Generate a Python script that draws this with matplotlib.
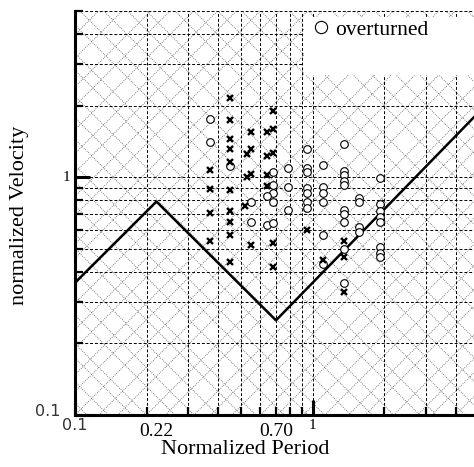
import numpy as np
import matplotlib
matplotlib.use("Agg")
import matplotlib.pyplot as plt
import matplotlib.transforms as mtransforms
from matplotlib.patches import Rectangle

# stability boundary (thick V line)
bound_x = [0.1, 0.22, 0.70, 5.0]
bound_y = [0.36, 0.79, 0.25, 1.88]

# overturned cases (open circles)
over_x = [0.37, 0.37, 0.45, 0.55, 0.55,
          0.68, 0.68, 0.68, 0.64, 0.68, 0.64, 0.68,
          0.79, 0.79, 0.79,
          0.95, 0.95, 0.95, 0.95, 0.95, 0.95, 0.95,
          1.10, 1.10, 1.10, 1.10, 1.10, 1.10,
          1.35, 1.35, 1.35, 1.35, 1.35, 1.35, 1.35, 1.35, 1.35, 1.35,
          1.56, 1.56, 1.56, 1.56,
          1.91, 1.91, 1.91, 1.91, 1.91, 1.91, 1.91, 1.91]
over_y = [1.76, 1.41, 1.11, 0.79, 0.65,
          1.05, 0.93, 0.86, 0.83, 0.79, 0.63, 0.64,
          1.09, 0.91, 0.73,
          1.31, 1.09, 1.05, 0.90, 0.86, 0.79, 0.74,
          1.13, 0.91, 0.86, 0.79, 0.57, 0.43,
          1.38, 1.06, 1.02, 0.96, 0.93, 0.73, 0.70, 0.65, 0.50, 0.36,
          0.82, 0.79, 0.62, 0.59,
          0.99, 0.77, 0.72, 0.68, 0.65, 0.51, 0.48, 0.46]

# not overturned cases (x marks)
stay_x = [0.37, 0.37, 0.37, 0.37,
          0.45, 0.45, 0.45, 0.45, 0.45, 0.45, 0.45, 0.45, 0.45, 0.45,
          0.55, 0.55, 0.53, 0.55, 0.53, 0.52, 0.55,
          0.68, 0.68, 0.64, 0.68, 0.64, 0.64, 0.64, 0.68, 0.68,
          0.95, 1.10, 1.35, 1.35, 1.35]
stay_y = [1.07, 0.89, 0.71, 0.54,
          2.15, 1.74, 1.45, 1.31, 1.16, 0.88, 0.72, 0.65, 0.57, 0.44,
          1.55, 1.31, 1.25, 1.03, 1.00, 0.76, 0.52,
          1.90, 1.59, 1.55, 1.27, 1.23, 1.02, 0.92, 0.53, 0.42,
          0.60, 0.45, 0.54, 0.46, 0.33]

# background diagonal texture, log10 of the line constants
up_logc = [-1.68, -1.6, -1.5, -1.44, -1.34, -1.22, -1.15, -1.05, -0.96,
           -0.85, -0.78, -0.66, -0.57, -0.5, -0.38, -0.3, -0.18, -0.1,
           0.0, 0.1, 0.17, 0.28, 0.36, 0.47, 0.55, 0.66, 0.72, 0.84,
           0.92, 1.02, 1.1, 1.2, 1.3, 1.38, 1.5, 1.6]
down_logc = [-1.95, -1.86, -1.76, -1.7, -1.58, -1.5, -1.4, -1.3, -1.24,
             -1.12, -1.02, -0.95, -0.84, -0.75, -0.66, -0.55, -0.48, -0.36,
             -0.28, -0.18, -0.08, 0.0, 0.12, 0.2, 0.3, 0.4, 0.48, 0.6,
             0.68, 0.78, 0.88, 0.96, 1.08, 1.16, 1.26, 1.35]

plt.rcParams['font.family'] = 'Liberation Serif'

fig = plt.figure(figsize=(4.74, 4.67), dpi=100)
ax = fig.add_axes([75/474, 52/467, 404/474, 404/467])
ax.set_xscale("log")
ax.set_yscale("log")
ax.set_xlim(0.1, 5.0)
ax.set_ylim(0.1, 5.0)

ends = np.array([0.1, 5.0])
for lc in up_logc:
    ax.plot(ends, 10**lc * ends, ls=(0, (1, 1.5)), lw=0.6, color="0.35", zorder=1)
for lc in down_logc:
    ax.plot(ends, 10**lc / ends, ls=(0, (1, 1.5)), lw=0.6, color="0.35", zorder=1)

ax.grid(True, which="both", ls=(0, (3, 2)), lw=0.7, color="black", zorder=2)
ax.set_axisbelow(False)

ax.plot(bound_x, bound_y, "k-", lw=1.8, zorder=4)
ax.plot(over_x, over_y, "o", mfc="white", mec="black", ms=5.5, mew=0.8,
        ls="none", zorder=5, label="overturned")
ax.plot(stay_x, stay_y, "x", color="black", ms=4.5, mew=1.7, ls="none", zorder=5)

# white box behind the legend
ax.add_patch(Rectangle((0.567, 0.842), 0.45, 0.143, transform=ax.transAxes,
                       facecolor="white", edgecolor="none", zorder=6, clip_on=False))
leg = ax.legend(loc="center left", bbox_to_anchor=(0.535, 0.953), frameon=False,
                fontsize=15.5, handletextpad=0.15, markerscale=1.6, handlelength=1.0)
leg.set_zorder(7)

for s in ["top", "right"]:
    ax.spines[s].set_visible(False)
for s in ["left", "bottom"]:
    ax.spines[s].set_linewidth(2.2)
    ax.spines[s].set_zorder(8)
ax.tick_params(which="both", direction="in", labelbottom=False, labelleft=False)
ax.tick_params(which="major", length=11, width=2.2)
ax.tick_params(which="minor", length=6, width=1.6)

bx = mtransforms.blended_transform_factory(ax.transData, ax.transAxes)
by = mtransforms.blended_transform_factory(ax.transAxes, ax.transData)
ax.text(0.1, -0.027, "0.1", transform=bx, ha="center", va="center",
        fontsize=11.5, family="DejaVu Sans", color="0.2")
ax.text(0.22, -0.042, "0.22", transform=bx, ha="center", va="center", fontsize=14)
ax.text(0.70, -0.042, "0.70", transform=bx, ha="center", va="center", fontsize=14)
ax.text(1.0, -0.027, "1", transform=bx, ha="center", va="center", fontsize=11)
ax.text(-0.035, 0.103, "0.1", transform=by, ha="right", va="center",
        fontsize=11.5, family="DejaVu Sans", color="0.2")
ax.text(-0.012, 1.0, "1", transform=by, ha="right", va="center", fontsize=11)

fig.text(245/474, 1 - 449/467, "Normalized Period", ha="center", va="center", fontsize=16)
fig.text(20/474, 1 - 215/467, "normalized Velocity", ha="center", va="center",
         rotation=90, fontsize=16)

fig.savefig("out.png", dpi=100)
